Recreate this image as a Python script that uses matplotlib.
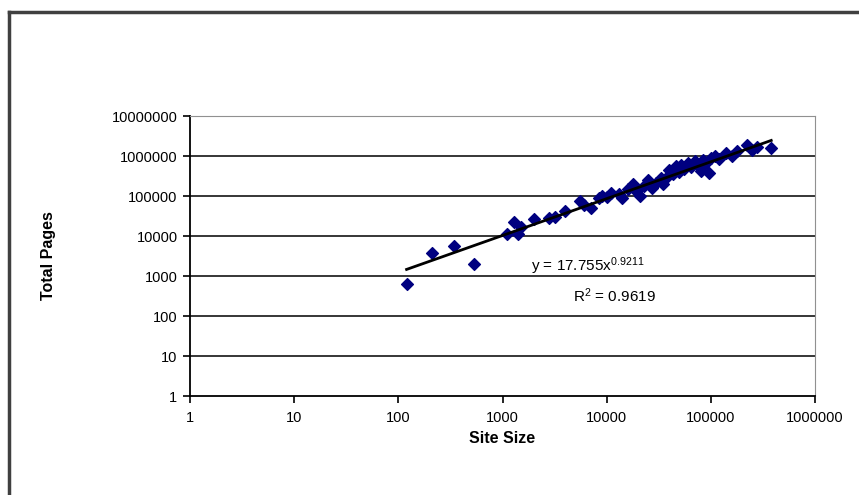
import matplotlib
matplotlib.use("Agg")
import matplotlib.pyplot as plt
from matplotlib.lines import Line2D
import numpy as np

plt.rcParams["font.family"] = ["Liberation Sans", "DejaVu Sans"]
plt.rcParams["mathtext.fontset"] = "custom"
plt.rcParams["mathtext.rm"] = "Liberation Sans"
plt.rcParams["mathtext.it"] = "Liberation Sans"

# valori letti a occhio dal grafico
site_size = [120, 210, 340, 530, 1100, 1300, 1400, 1500, 2000, 2800, 3200, 4000,
             5500, 6000, 7000, 8500, 9000, 10000, 11000, 13000, 14000, 16000,
             18000, 19000, 21000, 23000, 25000, 27000, 30000, 33000, 35000,
             38000, 40000, 43000, 46000, 50000, 52000, 55000, 60000, 65000,
             70000, 75000, 80000, 85000, 90000, 95000, 100000, 110000, 120000,
             140000, 160000, 180000, 220000, 250000, 280000, 380000]
total_pages = [630, 3700, 5500, 2000, 11000, 23000, 11500, 17000, 27000, 28000,
               30000, 42000, 75000, 60000, 50000, 90000, 100000, 95000, 120000,
               110000, 90000, 150000, 200000, 130000, 100000, 180000, 250000,
               160000, 210000, 280000, 200000, 300000, 450000, 350000, 550000,
               400000, 600000, 480000, 650000, 520000, 750000, 600000, 420000,
               800000, 650000, 380000, 900000, 1000000, 850000, 1200000, 1000000,
               1300000, 1900000, 1400000, 1700000, 1600000]

coef_a = 17.755
coef_b = 0.9211
r_squared = 0.9619

fig = plt.figure(figsize=(8.59, 4.95), dpi=100)
ax = fig.add_axes([190 / 859, 1 - 396 / 495, 625 / 859, 280 / 495])

ax.set_xscale("log")
ax.set_yscale("log")
ax.set_xlim(1, 1e6)
ax.set_ylim(1, 1e7)

# linee di griglia orizzontali
for v in [10, 100, 1e3, 1e4, 1e5, 1e6]:
    ax.axhline(v, color="black", lw=1.1, zorder=1)

ax.scatter(site_size, total_pages, marker="D", s=36, color="#000080",
           edgecolors="#000080", zorder=3)

# linea di tendenza (potenza)
xs = np.logspace(np.log10(min(site_size)), np.log10(max(site_size)), 50)
ax.plot(xs, coef_a * xs ** coef_b, color="black", lw=2.0, zorder=4)

fig.text(588 / 859, 1 - 266 / 495, r"y = 17.755x$^{0.9211}$", fontsize=11,
         ha="center", va="center", zorder=5)
fig.text(614 / 859, 1 - 296 / 495, r"R$^{2}$ = %.4f" % r_squared, fontsize=11,
         ha="center", va="center", zorder=5)

xt = [1, 10, 100, 1000, 10000, 100000, 1000000]
yt = [1, 10, 100, 1000, 10000, 100000, 1000000, 10000000]
ax.set_xticks(xt)
ax.set_xticklabels([str(v) for v in xt])
ax.set_yticks(yt)
ax.set_yticklabels([str(v) for v in yt])
ax.minorticks_off()
ax.tick_params(axis="both", direction="out", length=5, width=1.2,
               labelsize=10.5, color="black")
ax.tick_params(axis="x", pad=6)
ax.tick_params(axis="y", pad=4)

ax.spines["left"].set_color("black")
ax.spines["bottom"].set_color("black")
ax.spines["left"].set_linewidth(1.3)
ax.spines["bottom"].set_linewidth(1.3)
ax.spines["top"].set_color("#909090")
ax.spines["right"].set_color("#909090")

ax.set_xlabel("Site Size", fontsize=11.5, fontweight="bold")
ax.set_ylabel("Total Pages", fontsize=11.5, fontweight="bold")
ax.xaxis.set_label_coords((502 - 190) / 625, (396 - 431) / 280)
ax.yaxis.set_label_coords((56 - 190) / 625, 0.5)

# bordo esterno
fig.add_artist(Line2D([9 / 859, 9 / 859], [0, 1 - 12 / 495],
                      transform=fig.transFigure, color="#404040", lw=2.5))
fig.add_artist(Line2D([9 / 859, 1], [1 - 12 / 495, 1 - 12 / 495],
                      transform=fig.transFigure, color="#404040", lw=2.5))

fig.savefig("out.png", dpi=100)
